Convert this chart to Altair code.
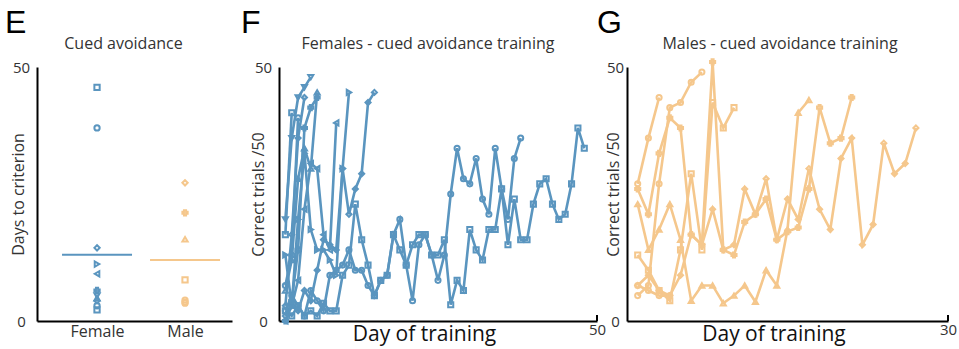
import altair as alt
import pandas as pd

BLUE = "#5a95bf"
PEACH = "#f5c78c"
FONT = "Open Sans"
TXT = "#333333"

# ---------------- Panel E: days to criterion ----------------
female_animals = ["F1", "F2", "F3", "F4", "F5", "F6", "F7", "F8", "F9", "F10", "F11"]
female_shapes = ["square", "circle", "diamond", "triangle-right", "triangle-left", "cross",
                 "triangle-down", "triangle-up", "diamond", "circle", "square"]
female_days_to_criterion = [46, 38, 14.4, 11.2, 9.3, 6, 5, 4.5, 4, 3, 2.2]

male_animals = ["M1", "M2", "M3", "M4", "M5", "M6", "M7"]
male_shapes = ["diamond", "cross", "triangle-up", "square", "circle", "circle", "circle"]
male_days_to_criterion = [27.2, 21.3, 16.1, 8.1, 4.1, 3.7, 3.5]

# ---------------- Panel F: female sessions (correct trials /50, day 1 onward) ----------------
F1 = [2, 1, 3, 1, 2, 1, 3.5, 2, 2, 9, 11, 23, 16, 11, 5, 8, 9, 17, 14, 11, 15, 17, 17, 13, 13, 16,
      3.2, 8, 6, 18, 14, 12, 18, 18, 26, 15, 24, 16, 16, 23, 27, 28, 23, 20, 21, 27, 38, 34]
F2 = [2, 5, 3, 1, 6, 4, 2, 9, 10, 11, 14, 10, 10, 7, 5, 8, 9, 17, 20, 11, 4, 15, 17, 13, 8, 13,
      25, 34, 28, 27, 32, 24, 21, 34, 26, 20, 32, 36]
F3 = [1, 3, 2, 6, 4, 10, 16, 15, 14, 30, 21, 26, 29, 43, 45]
F4 = [13, 3, 20, 33, 18, 14, 14, 12, 9, 30, 45]
F5 = [0, 3, 8, 22, 31, 30, 17, 14, 39]
F6 = [0, 4, 14, 38, 42, 44]
F7 = [20, 36, 44, 46, 48]
F8 = [6, 12, 28, 34, 30, 45]
F9 = [3, 17, 36, 44]
F10 = [7, 13, 40]
F11 = [17, 41]
female_sessions = [F1, F2, F3, F4, F5, F6, F7, F8, F9, F10, F11]

# ---------------- Panel G: male sessions ----------------
M1 = [7, 9, 6, 5, 9, 17, 15, 22, 14, 15, 26, 21, 28, 16, 24, 20, 30, 22, 18, 32, 36, 15, 19, 35,
      29, 31, 38]
M2 = [26, 21, 33, 40, 38, 17, 15, 51, 14, 13, 19.5, 21, 24, 16, 17.6, 18.4, 26, 42, 35, 36, 44]
M3 = [23, 14, 18, 23, 16, 4, 7, 7, 3.5, 5, 7, 3.8, 10, 7, 18, 41, 43.5]
M4 = [13, 10, 6, 4, 14, 29, 14, 43, 38, 42]
M5 = [5, 7, 27, 42, 43, 47, 49]
M6 = [27, 36, 44]
M7 = [7, 6, 5, 5]
male_sessions = [M1, M2, M3, M4, M5, M6, M7]

panel_letters = ["E", "F", "G"]
panel_titles = ["Cued avoidance", "Females - cued avoidance training", "Males - cued avoidance training"]

# ---------------- tables ----------------
e_df = pd.DataFrame(
    [{"sex": "Female", "animal": a, "days": v} for a, v in zip(female_animals, female_days_to_criterion)]
    + [{"sex": "Male", "animal": a, "days": v} for a, v in zip(male_animals, male_days_to_criterion)]
)
f_df = pd.DataFrame([{"animal": a, "day": i + 1, "correct": v}
                     for a, s in zip(female_animals, female_sessions) for i, v in enumerate(s)])
g_df = pd.DataFrame([{"animal": a, "day": i + 1, "correct": v}
                     for a, s in zip(male_animals, male_sessions) for i, v in enumerate(s)])

shape_scale = alt.Scale(domain=female_animals + male_animals, range=female_shapes + male_shapes)
H = 254


def y_axis(title, pad, tx):
    return alt.Axis(title=title, values=[0, 50], ticks=False, tickSize=0, grid=False,
                    domainColor="black", domainWidth=2,
                    labelFont=FONT, labelFontSize=15, labelColor=TXT, labelAlign="center",
                    labelPadding=pad, labelFlush=False, labelOverlap=False,
                    titleFont=FONT, titleFontSize=16, titleFontWeight="normal", titleColor=TXT,
                    titleX=tx, titleY=H / 2, titleBaseline="middle", titleAlign="center")


def x_axis(maxv, w):
    return alt.Axis(title="Day of training", values=[maxv], ticks=False, tickSize=0, grid=False,
                    domainColor="black", domainWidth=2,
                    labelFont=FONT, labelFontSize=15, labelColor=TXT, labelPadding=1,
                    labelFlush=False, labelOverlap=False,
                    titleFont=FONT, titleFontSize=21, titleFontWeight="normal", titleColor="#111",
                    titleX=w / 2 - 14, titleY=19, titleBaseline="alphabetic", titleAlign="center")


def annotations(i, letter_dx, title_cx):
    d = pd.DataFrame({"letter": [panel_letters[i]], "title": [panel_titles[i]]})
    let = alt.Chart(d).mark_text(
        font="Liberation Sans", fontSize=32, align="left", baseline="alphabetic", color="black"
    ).encode(text="letter:N", x=alt.value(letter_dx), y=alt.value(-34))
    ttl = alt.Chart(d).mark_text(
        font=FONT, fontSize=16, align="center", baseline="alphabetic", color=TXT
    ).encode(text="title:N", x=alt.value(title_cx), y=alt.value(-18))
    return [let, ttl]


# ---------------- Panel E chart ----------------
WE = 212
xE = alt.X("sex:N", sort=["Female", "Male"],
           scale=alt.Scale(type="point", domain=["Female", "Male"], range=[0, 195],
                           padding=0.608, align=0.561),
           axis=alt.Axis(title=None, labelAngle=0, ticks=False, tickSize=0, grid=False,
                         domainColor="black", domainWidth=2, labelFont=FONT, labelFontSize=16,
                         labelColor=TXT, labelPadding=2))
yE = alt.Y("days:Q", scale=alt.Scale(domain=[0, 50], nice=False),
           axis=y_axis("Days to criterion", 16, -18.5))
colE = alt.Color("sex:N", scale=alt.Scale(domain=["Female", "Male"], range=[BLUE, PEACH]), legend=None)

e_points = alt.Chart(e_df).mark_point(filled=False, size=28, strokeWidth=2, opacity=1).encode(
    x=xE, y=yE, color=colE, shape=alt.Shape("animal:N", scale=shape_scale, legend=None))
e_mean = alt.Chart(e_df).mark_tick(size=70, thickness=2).encode(
    x=xE, y=alt.Y("mean(days):Q"), color=colE)
E = alt.layer(e_mean, e_points, *annotations(0, -32, 86.5)).properties(width=WE, height=H)

# ---------------- Panel F chart ----------------
WF = 318
xF = alt.X("day:Q", scale=alt.Scale(domain=[0, 50], nice=False), axis=x_axis(50, WF))
yF = alt.Y("correct:Q", scale=alt.Scale(domain=[0, 50], nice=False),
           axis=y_axis("Correct trials /50", 16, -20.5))
f_lines = alt.Chart(f_df).mark_line(color=BLUE, strokeWidth=2.6).encode(
    x=xF, y=yF, detail="animal:N", order="day:Q")
f_pts = alt.Chart(f_df).mark_point(color=BLUE, filled=False, size=26, strokeWidth=2, opacity=1).encode(
    x=xF, y=yF, shape=alt.Shape("animal:N", scale=shape_scale, legend=None))
f_end = alt.Chart(f_df).mark_rule(color="black", strokeWidth=2).encode(
    x=alt.datum(50), y=alt.datum(0), y2=alt.datum(1.2))
F = alt.layer(f_lines, f_pts, f_end, *annotations(1, -38, 149)).properties(width=WF, height=H)

# ---------------- Panel G chart ----------------
WG = 321
xG = alt.X("day:Q", scale=alt.Scale(domain=[0, 30], nice=False), axis=x_axis(30, WG))
yG = alt.Y("correct:Q", scale=alt.Scale(domain=[0, 50], nice=False),
           axis=y_axis("Correct trials /50", 12, -14))
g_lines = alt.Chart(g_df).mark_line(color=PEACH, strokeWidth=2.6).encode(
    x=xG, y=yG, detail="animal:N", order="day:Q")
g_pts = alt.Chart(g_df).mark_point(color=PEACH, filled=False, size=26, strokeWidth=2, opacity=1).encode(
    x=xG, y=yG, shape=alt.Shape("animal:N", scale=shape_scale, legend=None))
g_end = alt.Chart(g_df).mark_rule(color="black", strokeWidth=2).encode(
    x=alt.datum(30), y=alt.datum(0), y2=alt.datum(1.2))
G = alt.layer(g_lines, g_pts, g_end, *annotations(2, -30, 153)).properties(width=WG, height=H)

chart = alt.hconcat(E, F, G, spacing=30, bounds="flush").resolve_scale(
    x="independent", y="independent", shape="shared", color="independent"
).properties(
    padding={"left": 5, "top": 7, "right": 0, "bottom": 6}, background="white"
).configure_view(strokeWidth=0)

chart.save("out.html", embed_options={"renderer": "svg", "actions": False})
